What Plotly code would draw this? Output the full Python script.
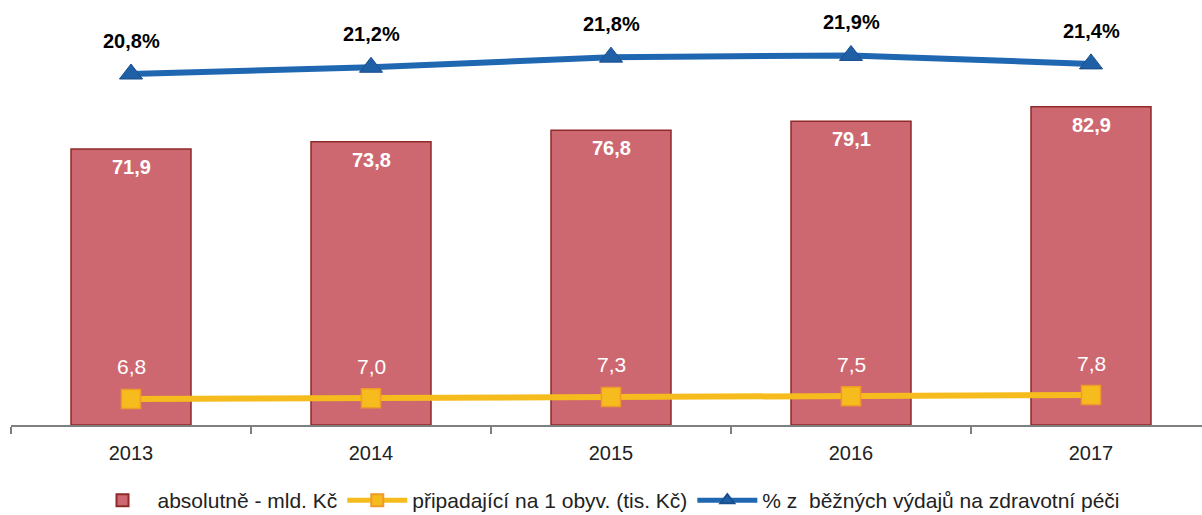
import plotly.graph_objects as go

roky = ['2013', '2014', '2015', '2016', '2017']
absolutne = [71.9, 73.8, 76.8, 79.1, 82.9]
na_obyv = [6.8, 7.0, 7.3, 7.5, 7.8]
podil = [20.8, 21.2, 21.8, 21.9, 21.4]

CERVENA = '#CE6870'
CERVENA_OKRAJ = '#8E2A2A'
ZLUTA = '#F6BC1E'
MODRA = '#1F67B1'

FONT = 'Liberation Sans, Arial, sans-serif'


def fmt(v):
    return f"{v:.1f}".replace('.', ',')


fig = go.Figure()
fig.add_trace(go.Bar(
    x=roky, y=absolutne, name='absolutně - mld. Kč', width=0.5,
    marker=dict(color=CERVENA, line=dict(color=CERVENA_OKRAJ, width=1.5))))
fig.add_trace(go.Scatter(
    x=roky, y=na_obyv, name='připadající na 1 obyv. (tis. Kč)',
    mode='lines+markers', line=dict(color=ZLUTA, width=6),
    marker=dict(symbol='square', size=19, color=ZLUTA,
                line=dict(color='#F09A2A', width=1.5))))
fig.add_trace(go.Scatter(
    x=roky, y=podil, name='% z  běžných výdajů na zdravotní péči',
    mode='lines+markers', yaxis='y2', line=dict(color=MODRA, width=6),
    marker=dict(symbol='triangle-up', size=20, color='#1F5FA6',
                line=dict(color='#1A4F8C', width=1))))

popisky = []
for i, (a, o, p) in enumerate(zip(absolutne, na_obyv, podil)):
    popisky.append(dict(x=i, y=a, yref='y', text=f"<b>{fmt(a)}</b>", yshift=-18,
                        font=dict(color='white', size=20)))
    popisky.append(dict(x=i, y=o, yref='y', text=fmt(o), yshift=32,
                        font=dict(color='white', size=21)))
    popisky.append(dict(x=i, y=p, yref='y2', text=f"<b>{fmt(p)}%</b>", yshift=33,
                        font=dict(color='black', size=20)))
for a in popisky:
    fig.add_annotation(xref='x', showarrow=False, **a)

skryta = dict(showgrid=False, zeroline=False, showline=False,
              showticklabels=False, ticks='')

fig.update_layout(
    width=1202, height=515,
    margin=dict(l=11, r=0, t=20, b=90),
    plot_bgcolor='white', paper_bgcolor='white',
    font=dict(family=FONT, size=20, color='#222222'),
    bargap=0.5, showlegend=True,
    xaxis=dict(type='category', range=[-0.5, 4.4625], tickson='boundaries',
               ticks='outside', ticklen=7, tickcolor='#7F7F7F', tickwidth=1.5,
               showline=True, linecolor='#7F7F7F', linewidth=1.5,
               showgrid=False, ticklabelstandoff=9,
               tickfont=dict(size=20, color='#222222')),
    yaxis=dict(range=[0, 105.5], **skryta),
    yaxis2=dict(range=[0, 24], overlaying='y', side='right', **skryta),
    legend=dict(orientation='h', x=0.5, xanchor='center',
                yref='container', y=0.028, yanchor='middle',
                font=dict(size=21, color='#222222'), itemwidth=60,
                itemsizing='constant', traceorder='normal'),
)

# bez okraje stránky, aby graf seděl přesně do okna
fig.write_html("out.html", config={'displayModeBar': False},
               post_script="document.body.style.margin='0';")
